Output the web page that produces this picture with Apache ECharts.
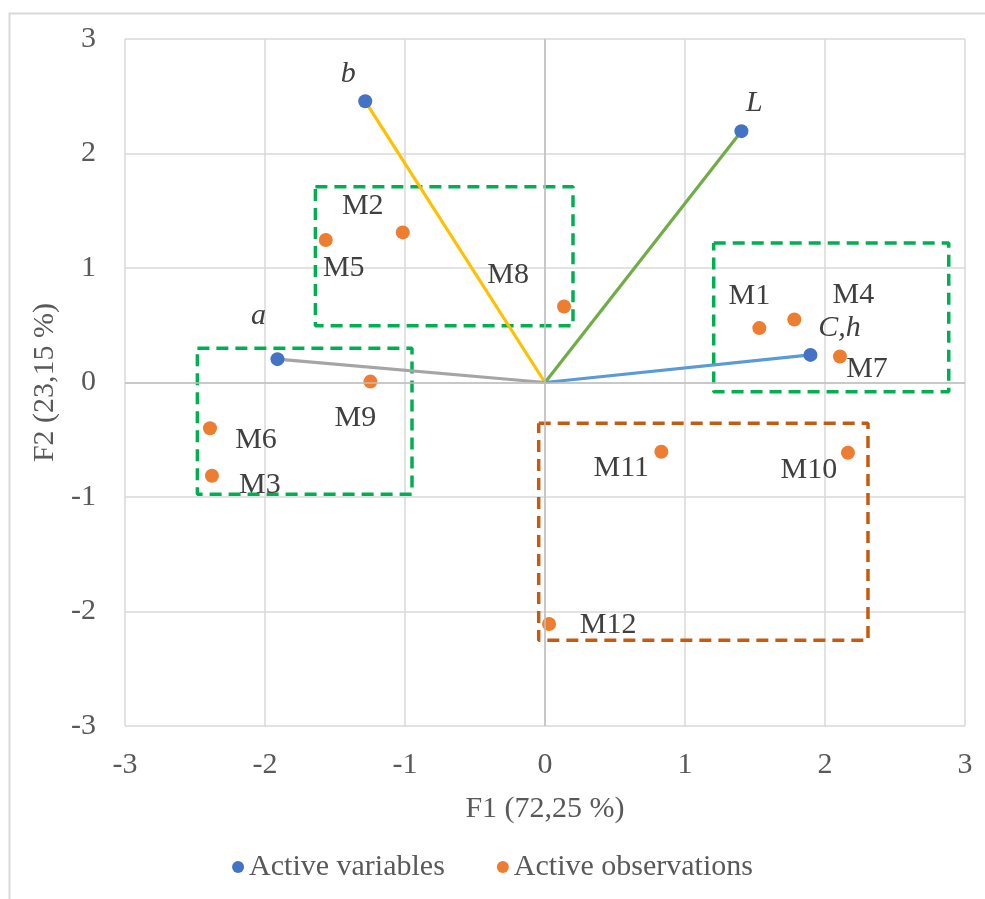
<!DOCTYPE html>
<html>
<head>
<meta charset="utf-8">
<script src="https://cdn.jsdelivr.net/npm/echarts@6/dist/echarts.min.js"></script>
<style>
  html, body { margin: 0; padding: 0; background: #fff; }
  #main { width: 985px; height: 899px; }
</style>
</head>
<body>
<div id="main"></div>
<script>
// variables (blue points, drawn with a line from origin)
var varNames = ['b', 'L', 'C,h', 'a']
var varX = [-1.284, 1.403, 1.896, -1.911]
var varY = [2.456, 2.195, 0.241, 0.204]
var varLineColors = ['#FFC000', '#70AD47', '#5B9BD5', '#A5A5A5']

// observations (orange points)
var obsNames = ['M1', 'M2', 'M3', 'M4', 'M5', 'M6', 'M7', 'M8', 'M9', 'M10', 'M11', 'M12']
var obsX = [1.531, -1.016, -2.379, 1.781, -1.566, -2.393, 2.107, 0.136, -1.247, 2.164, 0.831, 0.029]
var obsY = [0.475, 1.311, -0.815, 0.550, 1.245, -0.400, 0.227, 0.664, 0.008, -0.613, -0.605, -2.109]

// dashed group boxes: [xmin, xmax, ymin, ymax]
var boxes = [
  [-1.640, 0.200, 0.495, 1.709],
  [1.205, 2.884, -0.080, 1.219],
  [-2.483, -0.950, -0.975, 0.300],
  [-0.045, 2.307, -2.252, -0.356]
]
var boxColors = ['#00B050', '#00B050', '#00B050', '#C55A11']

var axisTicks = [-3, -2, -1, 0, 1, 2, 3]

// label offsets in pixels (from point centre)
var labelOffset = {
  'b': [-17, -27], 'L': [13, -28], 'C,h': [29, -27], 'a': [-19, -43],
  'M1': [-10, -32], 'M2': [-40, -26], 'M3': [48, 9], 'M4': [59, -24],
  'M5': [18, 28], 'M6': [46, 12], 'M7': [27, 13], 'M8': [-56, -31],
  'M9': [-15, 37], 'M10': [-39, 17], 'M11': [-40, 16], 'M12': [59, 1]
}

var font = 'Liberation Serif'

var chart = echarts.init(document.getElementById('main'), null, { renderer: 'canvas' })

var series = []

// lines from origin to each variable
for (var i = 0; i < varNames.length; i++) {
  series.push({
    type: 'line',
    silent: true,
    symbol: 'none',
    z: 2,
    lineStyle: { color: varLineColors[i], width: 3.2 },
    data: [[0, 0], [varX[i], varY[i]]]
  })
}

// group boxes
for (var k = 0; k < boxes.length; k++) {
  var bx = boxes[k]
  series.push({
    type: 'line',
    silent: true,
    symbol: 'none',
    z: 1,
    lineStyle: { color: boxColors[k], width: 3.5, type: [12, 7] },
    data: [[bx[0], bx[3]], [bx[1], bx[3]], [bx[1], bx[2]], [bx[0], bx[2]], [bx[0], bx[3]]]
  })
}

function pointData(names, xs, ys) {
  var out = []
  for (var i = 0; i < names.length; i++) {
    out.push({
      name: names[i],
      value: [xs[i], ys[i]],
      label: { offset: labelOffset[names[i]] }
    })
  }
  return out
}

series.push({
  name: 'Active variables',
  type: 'scatter',
  symbolSize: 14,
  z: 4,
  itemStyle: { color: '#4472C4', opacity: 1 },
  label: {
    show: true,
    position: 'inside',
    formatter: '{b}',
    fontFamily: font,
    fontSize: 30,
    fontStyle: 'italic',
    color: '#404040'
  },
  data: pointData(varNames, varX, varY),
  markLine: {
    silent: true,
    symbol: 'none',
    label: { show: false },
    lineStyle: { color: '#BFBFBF', width: 1.5, type: 'solid' },
    data: [{ xAxis: 0 }, { yAxis: 0 }]
  }
})

series.push({
  name: 'Active observations',
  type: 'scatter',
  symbolSize: 14,
  z: 4,
  itemStyle: { color: '#ED7D31', opacity: 1 },
  label: {
    show: true,
    position: 'inside',
    formatter: '{b}',
    fontFamily: font,
    fontSize: 30,
    color: '#404040'
  },
  data: pointData(obsNames, obsX, obsY)
})

var option = {
  animation: false,
  backgroundColor: '#fff',
  textStyle: { fontFamily: font },
  graphic: [{
    type: 'rect',
    left: 7, top: 11,
    shape: { width: 1000, height: 900 },
    style: { fill: 'none', stroke: '#D9D9D9', lineWidth: 2 },
    silent: true
  }],
  grid: { left: 125, top: 39, width: 840, height: 687 },
  legend: {
    data: ['Active variables', 'Active observations'],
    top: 847,
    left: 'center',
    icon: 'circle',
    itemWidth: 12,
    itemHeight: 12,
    itemGap: 52,
    itemStyle: { opacity: 1 },
    textStyle: { fontFamily: font, fontSize: 30, color: '#595959' }
  },
  xAxis: {
    type: 'value',
    min: axisTicks[0],
    max: axisTicks[axisTicks.length - 1],
    interval: 1,
    name: 'F1 (72,25 %)',
    nameLocation: 'middle',
    nameGap: 68,
    nameTextStyle: { fontFamily: font, fontSize: 30, color: '#595959' },
    axisLine: { show: false, onZero: false },
    axisTick: { show: false },
    axisLabel: { fontFamily: font, fontSize: 30, color: '#595959', margin: 24 },
    splitLine: { show: true, lineStyle: { color: '#D9D9D9', width: 1.5 } }
  },
  yAxis: {
    type: 'value',
    min: axisTicks[0],
    max: axisTicks[axisTicks.length - 1],
    interval: 1,
    name: 'F2 (23,15 %)',
    nameLocation: 'middle',
    nameGap: 62,
    nameTextStyle: { fontFamily: font, fontSize: 30, color: '#595959' },
    axisLine: { show: false, onZero: false },
    axisTick: { show: false },
    axisLabel: { fontFamily: font, fontSize: 30, color: '#595959', margin: 29 },
    splitLine: { show: true, lineStyle: { color: '#D9D9D9', width: 1.5 } }
  },
  series: series
}

chart.setOption(option)
</script>
</body>
</html>
